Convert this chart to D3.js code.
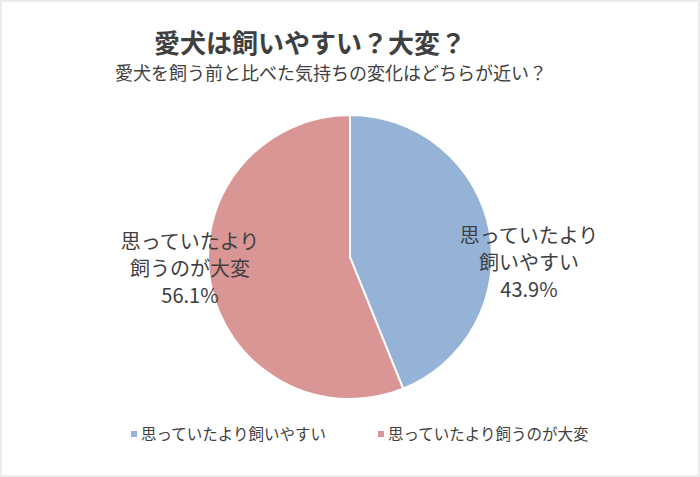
<!DOCTYPE html>
<html><head><meta charset="utf-8">
<script src="https://cdn.jsdelivr.net/npm/d3@7"></script>
<style>body{margin:0;background:#fff;}text{font-family:"Noto Sans CJK JP","Noto Sans",sans-serif;fill:#404040;}</style>
</head><body>
<script>
var categories = ["思っていたより飼いやすい", "思っていたより飼うのが大変"];
var labelLines = [["思っていたより", "飼いやすい"], ["思っていたより", "飼うのが大変"]];
var values = [43.9, 56.1];
var colors = ["#95b3d7", "#d99694"];

var svg = d3.select("body").append("svg").attr("width", 700).attr("height", 477);
svg.append("rect").attr("x", 1).attr("y", 1).attr("width", 698).attr("height", 475)
  .attr("fill", "#fff").attr("stroke", "#d9d9d9");

svg.append("text").attr("x", 310).attr("y", 53).attr("text-anchor", "middle")
  .attr("font-size", 26).attr("font-weight", "bold").text("愛犬は飼いやすい？大変？");
svg.append("text").attr("x", 331).attr("y", 80).attr("text-anchor", "middle")
  .attr("font-size", 18).text("愛犬を飼う前と比べた気持ちの変化はどちらが近い？");

var cx = 350, cy = 257, r = 142;
var pie = d3.pie().sort(null).value(function(d) { return d; });
var arc = d3.arc().innerRadius(0).outerRadius(r);
var g = svg.append("g").attr("transform", "translate(" + cx + "," + cy + ")");
g.selectAll("path").data(pie(values)).enter().append("path")
  .attr("d", arc).attr("fill", function(d, i) { return colors[i]; })
  .attr("stroke", "#fff").attr("stroke-width", 2);

// data labels
var labelPos = [[529, 243], [190, 249]];
labelPos.forEach(function(p, i) {
  var t = svg.append("text").attr("text-anchor", "middle").attr("font-size", 20);
  labelLines[i].concat([values[i].toFixed(1) + "%"]).forEach(function(line, j) {
    t.append("tspan").attr("x", p[0]).attr("y", p[1] + j * 27).text(line);
  });
});

// legend
var legendX = [131, 378];
categories.forEach(function(c, i) {
  svg.append("rect").attr("x", legendX[i]).attr("y", 431).attr("width", 6).attr("height", 6)
    .attr("fill", colors[i]);
  svg.append("text").attr("x", legendX[i] + 10).attr("y", 440).attr("font-size", 15.5).text(c);
});
</script>
</body></html>
